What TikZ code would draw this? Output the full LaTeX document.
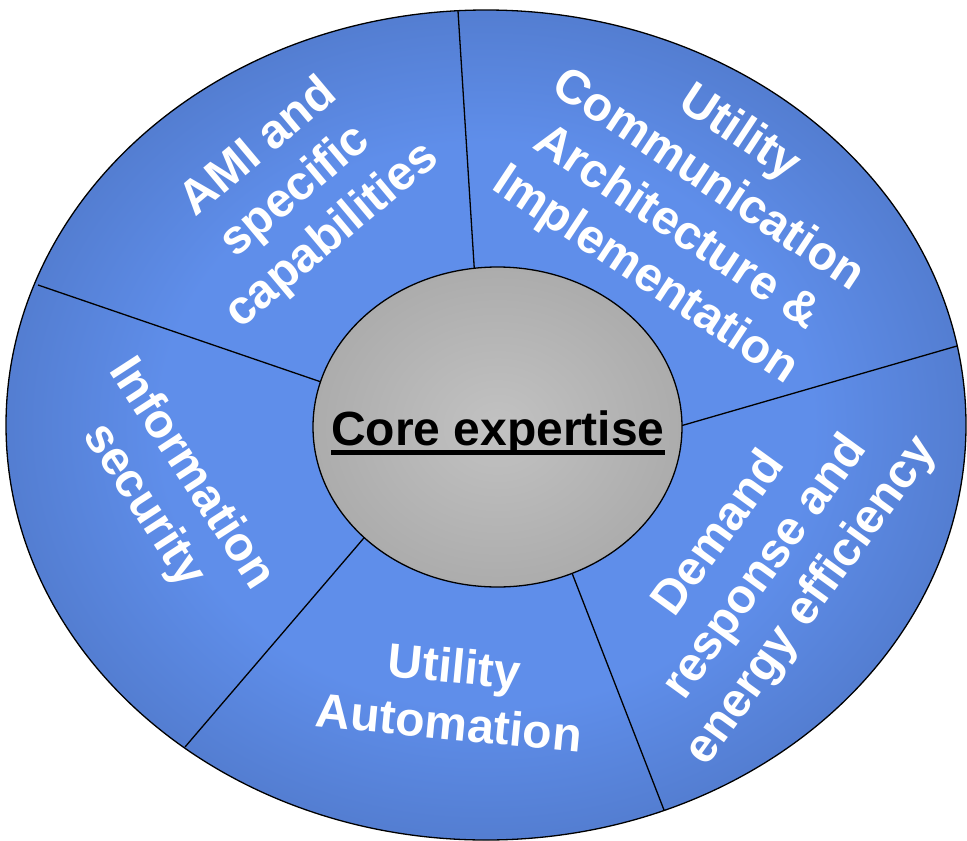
\documentclass[tikz,border=0pt]{standalone}
\usepackage{fontspec}
\setmainfont{Liberation Sans}
\definecolor{bluelight}{HTML}{5F8EEA}
\definecolor{bluedark}{HTML}{4163A9}
\definecolor{graycenter}{HTML}{C2C2C2}
\definecolor{grayedge}{HTML}{969696}
\pgfdeclareradialshading{bluerad}{\pgfpointorigin}{color(0bp)=(bluelight); color(17bp)=(bluelight); color(38bp)=(bluedark); color(50bp)=(bluedark)}
\pgfdeclareradialshading{grayrad}{\pgfpointorigin}{color(0bp)=(graycenter); color(50bp)=(grayedge)}
\tikzset{
  lbl/.style={text=white, font=\bfseries\fontsize{48}{57}\selectfont, align=center, inner sep=0pt},
  divider/.style={draw=black, line width=1.3pt},
  rim/.style={draw=black, line width=1.3pt}
}
\begin{document}
\begin{tikzpicture}[x=1pt,y=-1pt]
\useasboundingbox (0,0) rectangle (967,841);
% outer ring
\shade[shading=bluerad, rim] (486,425) ellipse [x radius=480pt, y radius=415pt];
% divider end points
\coordinate (o1) at (458,11);
\coordinate (i1) at (475,280);
\coordinate (o2) at (38,285);
\coordinate (i2) at (330,385);
\coordinate (o3) at (185,747);
\coordinate (i3) at (375,525);
\coordinate (o4) at (664,810);
\coordinate (i4) at (565,555);
\coordinate (o5) at (957,346);
\coordinate (i5) at (670,429);
\draw[divider] (o1) -- (i1);
\draw[divider] (o2) -- (i2);
\draw[divider] (o3) -- (i3);
\draw[divider] (o4) -- (i4);
\draw[divider] (o5) -- (i5);
% core
\shade[shading=grayrad, rim] (497.5,427) ellipse [x radius=184.5pt, y radius=160pt];
\node[font=\bfseries\fontsize{48}{57}\selectfont, text=black, inner sep=0pt, anchor=base] (core) at (498,445) {Core expertise};
\draw[line width=5pt] ([yshift=-7pt]core.base west) -- ([yshift=-7pt]core.base east);
% labels
\node[lbl, rotate=40] (ami) at (296,192) {AMI and\\specific\\capabilities};
\node[lbl, rotate=-33.5] (uca) at (692,205) {Utility\\Communication\\Architecture \&\\Implementation};
\node[lbl, rotate=-57] (info) at (167,490) {Information\\security};
\node[lbl, rotate=-5.5] (ua) at (452,694) {Utility\\Automation};
\node[lbl, rotate=54] (dr) at (766,568) {Demand\\response and\\energy efficiency};
\end{tikzpicture}
\end{document}
